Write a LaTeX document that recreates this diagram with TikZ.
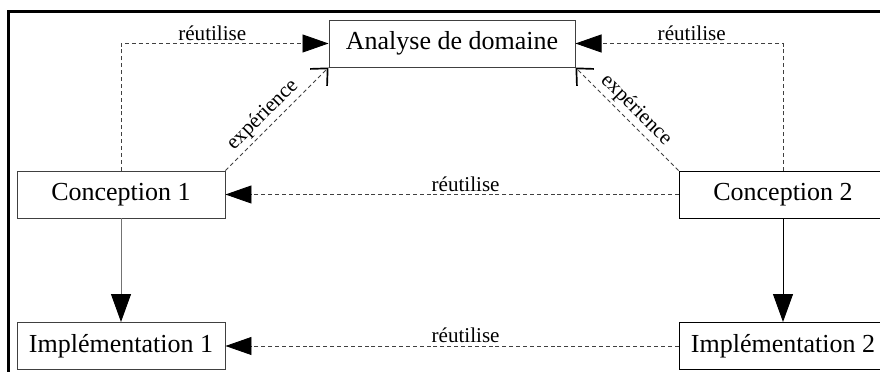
\documentclass[tikz,border=0pt]{standalone}
\usepackage{fontspec}
\setmainfont{Liberation Serif}
\usetikzlibrary{arrows.meta}

\begin{document}
\begin{tikzpicture}[
    box/.style={draw=black!75, line width=0.7pt, minimum width=5.2cm, minimum height=1.175cm,
        inner sep=0pt, font=\fontsize{18.5}{20}\selectfont},
    reuse/.style={black!75, line width=0.6pt, dash pattern=on 2.8pt off 2.1pt,
        -{Triangle[length=0.65cm, width=0.45cm, color=black]}},
    expo/.style={black!75, line width=0.6pt, dash pattern=on 2.8pt off 2.1pt,
        -{Straight Barb[length=0.32cm, width=0.6cm, line width=1.2pt, color=black]}},
    derive/.style={line width=0.7pt, -{Triangle[length=0.7cm, width=0.5cm, color=black]}},
    lbl/.style={text=black, font=\fontsize{15}{17}\selectfont, inner sep=2pt}
]
    \clip (0,0) rectangle (22,9.3);
    % page frame
    \draw[line width=2.1pt] (0.2175,-0.5) |- (22.5,9.0125);

    % boxes
    \node[box, minimum width=6.15cm] (dom) at (11.3,8.2125) {Analyse de domaine};
    \node[box] (c1) at (3.025,4.4375) {Conception 1};
    \node[box, draw=black] (c2) at (19.575,4.4375) {Conception 2};
    \node[box] (i1) at (3.025,0.65) {Impl\'ementation 1};
    \node[box, draw=black] (i2) at (19.575,0.65) {Impl\'ementation 2};

    % reuse of the domain analysis
    \draw[reuse] (c1.north) |- (dom.west) node[lbl, pos=0.72, above] {r\'eutilise};
    \draw[reuse] (c2.north) |- (dom.east) node[lbl, pos=0.72, above] {r\'eutilise};

    % experience fed back
    \draw[expo] (c1.north east) -- (dom.south west) node[lbl, pos=0.45, sloped, above] {exp\'erience};
    \draw[expo] (c2.north west) -- (dom.south east) node[lbl, pos=0.5, sloped, above] {exp\'erience};

    % reuse between the two projects
    \draw[reuse] (c2.west) -- (c1.east) node[lbl, pos=0.47, above] {r\'eutilise};
    \draw[reuse] (i2.west) -- (i1.east) node[lbl, pos=0.47, above] {r\'eutilise};

    % design to implementation
    \draw[derive, black!55] (c1.south) -- (i1.north);
    \draw[derive] (c2.south) -- (i2.north);
\end{tikzpicture}
\end{document}
